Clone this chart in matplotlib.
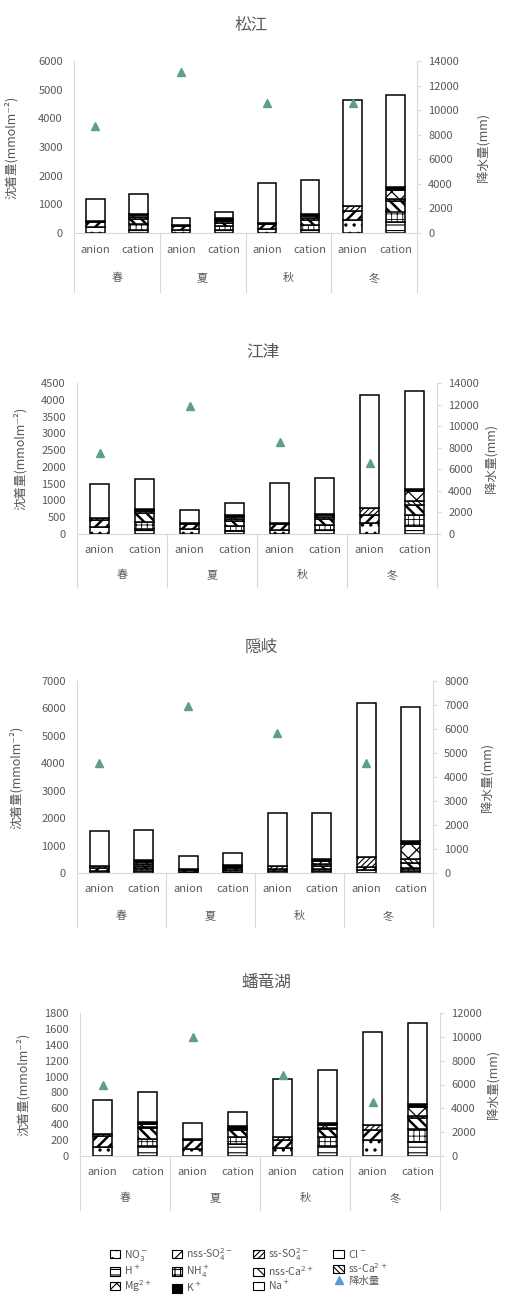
import matplotlib
matplotlib.use("Agg")
import matplotlib.pyplot as plt
import matplotlib.transforms as mtransforms
from matplotlib.patches import Patch
from matplotlib.lines import Line2D
import numpy as np

plt.rcParams['font.family'] = ['Noto Sans CJK JP', 'DejaVu Sans']
plt.rcParams['hatch.linewidth'] = 0.8

seasons = ['春', '夏', '秋', '冬']
kinds = ['anion', 'cation']
sites = ['松江', '江津', '隠岐', '蟠竜湖']

anion_names = ['NO$_3^-$', 'nss-SO$_4^{2-}$', 'ss-SO$_4^{2-}$', 'Cl$^-$']
cation_names = ['H$^+$', 'NH$_4^+$', 'nss-Ca$^{2+}$', 'ss-Ca$^{2+}$', 'Mg$^{2+}$', 'K$^+$', 'Na$^+$']

# 松江
matsue_anion = [[200, 100, 150, 450], [200, 150, 150, 310], [30, 30, 50, 180], [770, 260, 1380, 3690]]
matsue_cation = [[120, 100, 120, 390], [180, 150, 150, 360], [200, 100, 180, 370], [60, 60, 80, 60],
                 [60, 50, 80, 320], [30, 80, 40, 100], [720, 200, 1210, 3200]]
matsue_rain = [8700, 13100, 10600, 10600]
# 江津
gotsu_anion = [[200, 150, 130, 330], [230, 150, 170, 240], [40, 30, 40, 200], [1030, 390, 1190, 3360]]
gotsu_cation = [[150, 100, 130, 250], [210, 150, 150, 320], [255, 150, 170, 300], [60, 50, 60, 100],
                [50, 50, 60, 300], [30, 60, 40, 70], [895, 360, 1070, 2930]]
gotsu_rain = [7500, 11900, 8500, 6600]
# 隠岐
oki_anion = [[80, 40, 60, 100], [110, 60, 80, 120], [70, 30, 100, 380], [1270, 490, 1960, 5590]]
oki_cation = [[60, 50, 60, 80], [120, 70, 100, 120], [90, 60, 100, 150], [60, 30, 80, 150],
              [70, 30, 100, 550], [60, 60, 80, 120], [1100, 420, 1680, 4900]]
oki_rain = [4600, 6950, 5850, 4600]
# 蟠竜湖
banryu_anion = [[117, 90, 97, 200], [135, 110, 104, 126], [25, 10, 42, 63], [428, 210, 730, 1172]]
banryu_cation = [[120, 150, 130, 180], [100, 90, 113, 156], [130, 90, 93, 138], [20, 10, 20, 26],
                 [30, 15, 30, 121], [30, 25, 24, 34], [380, 170, 668, 1023]]
banryu_rain = [6000, 9950, 6800, 4500]

left_limits = [(6000, 1000), (4500, 500), (7000, 1000), (1800, 200)]
right_limits = [(14000, 2000), (14000, 2000), (8000, 1000), (12000, 2000)]

site_data = [(matsue_anion, matsue_cation, matsue_rain),
             (gotsu_anion, gotsu_cation, gotsu_rain),
             (oki_anion, oki_cation, oki_rain),
             (banryu_anion, banryu_cation, banryu_rain)]

# styles (facecolor, hatch, hatch linewidth)
anion_style = [('white', '..', 1.2), ('white', '///', 1.8), ('white', '//////', 0.8), ('white', None, 0.8)]
cation_style = [('white', '---', 0.8), ('white', '+++', 0.6), ('white', '\\\\\\', 1.8),
                ('white', '\\\\\\\\\\\\', 0.8), ('white', 'xx', 0.9), ('black', None, 0.8), ('white', None, 0.8)]


def style_patch(p, hlw):
    if hasattr(p, 'set_hatch_linewidth'):
        p.set_hatch_linewidth(hlw)


W, H = 507, 1297
fig = plt.figure(figsize=(W / 100, H / 100), dpi=100)

# axes pixel boxes: left, top, right, bottom
boxes = [(74, 61, 417, 233), (77, 383, 437, 534), (77, 681, 433, 873), (80, 1013, 440, 1156)]
title_y = [25, 352, 647, 982]
lab_off = [(17, 45, 59), (16, 41, 53), (16, 43, 54), (16, 42, 54)]
ylab_x = [(18, 484), (27, 492), (23, 488), (30, 494)]

gray = '#595959'
lgray = '#d9d9d9'
bw = 0.43
tri_color = '#5f9e8f'

for i, site in enumerate(sites):
    l, t, r, b = boxes[i]
    ax = fig.add_axes([l / W, 1 - b / H, (r - l) / W, (b - t) / H])
    anion, cation, rain = site_data[i]
    xa = np.arange(4) * 2
    xc = xa + 1
    bottom = np.zeros(4)
    for comp, (fc, hatch, hlw) in zip(anion, anion_style):
        bars = ax.bar(xa, comp, bw, bottom=bottom, color=fc, edgecolor='black',
                      linewidth=1.1, hatch=hatch)
        for p in bars:
            style_patch(p, hlw)
        bottom += np.array(comp)
    bottom = np.zeros(4)
    for comp, (fc, hatch, hlw) in zip(cation, cation_style):
        bars = ax.bar(xc, comp, bw, bottom=bottom, color=fc, edgecolor='black',
                      linewidth=1.1, hatch=hatch)
        for p in bars:
            style_patch(p, hlw)
        bottom += np.array(comp)
    ax.set_xlim(-0.5, 7.5)
    ymax, ystep = left_limits[i]
    ax.set_ylim(0, ymax)
    ax.set_yticks(np.arange(0, ymax + 1, ystep))
    ax.set_xticks([])
    ax.tick_params(axis='y', length=0, pad=8, labelsize=8, labelcolor=gray)
    for s in ['top', 'right']:
        ax.spines[s].set_visible(False)
    for s in ['left', 'bottom']:
        ax.spines[s].set_color(lgray)
        ax.spines[s].set_linewidth(0.8)
    ax.set_ylabel('沈着量(mmolm⁻²)', fontsize=9, color=gray)
    ax.yaxis.set_label_coords((ylab_x[i][0] - l) / (r - l), 0.5)

    ax2 = ax.twinx()
    rmax, rstep = right_limits[i]
    ax2.set_ylim(0, rmax)
    ax2.set_yticks(np.arange(0, rmax + 1, rstep))
    ax2.plot(xa, rain, linestyle='none', marker='^', markersize=5.5, color=tri_color)
    ax2.tick_params(axis='y', length=3, width=0.8, color=lgray, pad=5, labelsize=8, labelcolor=gray)
    for s in ['top', 'left', 'bottom']:
        ax2.spines[s].set_visible(False)
    ax2.spines['right'].set_color(lgray)
    ax2.spines['right'].set_linewidth(0.8)
    ax2.set_ylabel('降水量(mm)', fontsize=9, color=gray, rotation=90, va='center')
    ax2.yaxis.set_label_coords((ylab_x[i][1] - l) / (r - l), 0.5)

    # multi-level category labels
    o1, o2, o3 = lab_off[i]
    for k in range(8):
        trans = mtransforms.offset_copy(ax.get_xaxis_transform(), fig=fig, y=-o1 * 0.72, units='points')
        ax.text(k, 0, kinds[k % 2], transform=trans, ha='center', va='center', fontsize=8, color=gray)
    for k in range(4):
        trans = mtransforms.offset_copy(ax.get_xaxis_transform(), fig=fig, y=-o2 * 0.72, units='points')
        ax.text(2 * k + 0.5, 0, seasons[k], transform=trans, ha='center', va='center', fontsize=8, color=gray)
    for xs in [-0.5, 1.5, 3.5, 5.5, 7.5]:
        ax.plot([xs, xs], [0, -o3 / (b - t)], transform=ax.get_xaxis_transform(),
                color=lgray, linewidth=0.8, clip_on=False)

    fig.text(((l + r) / 2 + 6) / W, 1 - title_y[i] / H, site, ha='center', va='center',
             fontsize=12, color=gray)

# legend
handles = []
for name, (fc, hatch, hlw) in zip(anion_names, anion_style):
    p = Patch(facecolor=fc, edgecolor='black', hatch=hatch, linewidth=0.8, label=name)
    style_patch(p, hlw)
    handles.append(p)
for name, (fc, hatch, hlw) in zip(cation_names, cation_style):
    p = Patch(facecolor=fc, edgecolor='black', hatch=hatch, linewidth=0.8, label=name)
    style_patch(p, hlw)
    handles.append(p)
handles.append(Line2D([], [], linestyle='none', marker='^', markersize=6, color='#5b9bd5', label='降水量'))
# row-wise order -> column-major for ncol=4
order = [0, 4, 8, 1, 5, 9, 2, 6, 10, 3, 7, 11]
ordered = [handles[j] for j in order]
leg = fig.legend(handles=ordered, ncol=4, loc='center', bbox_to_anchor=(0.49, 1 - 1270 / H),
                 frameon=False, fontsize=7.5, handlelength=1.0, handleheight=0.9,
                 handletextpad=0.4, columnspacing=1.9, labelspacing=0.1)
for txt in leg.get_texts():
    txt.set_color(gray)

fig.savefig('out.png', dpi=100, facecolor='white')
